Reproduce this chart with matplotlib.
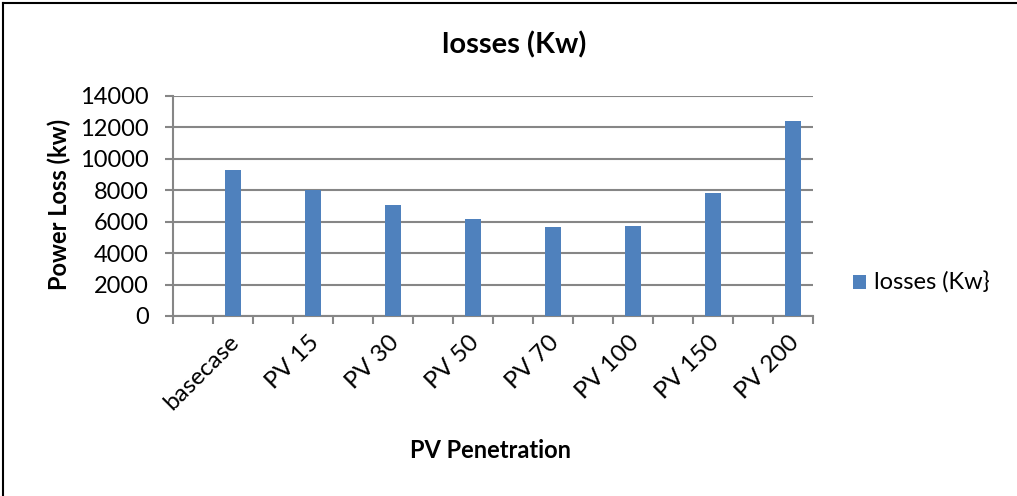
import matplotlib
matplotlib.use("Agg")
import matplotlib.pyplot as plt
from matplotlib.lines import Line2D
from matplotlib.ticker import FixedLocator
import matplotlib.transforms as mtransforms

# Data
scenarios = ["basecase", "PV 15", "PV 30", "PV 50", "PV 70", "PV 100", "PV 150", "PV 200"]
losses_kw = [9300, 8050, 7050, 6150, 5650, 5700, 7800, 12400]
y_ticks = [0, 2000, 4000, 6000, 8000, 10000, 12000, 14000]

plt.rcParams["font.family"] = ["Lato", "DejaVu Sans"]

BAR_COLOR = "#4F81BD"
GRID_COLOR = "#868686"
W, H = 1017, 496

fig = plt.figure(figsize=(W / 100, H / 100), dpi=100)
ax = fig.add_axes([173 / W, (H - 316) / H, 640 / W, 220 / H])

# Each scenario sits in every other category slot
n_slots = 2 * len(scenarios)
positions = [2 * i + 1 for i in range(len(scenarios))]

ax.bar(positions, losses_kw, width=0.4, color=BAR_COLOR, zorder=3,
       label="losses (Kw}")

ax.set_xlim(-0.5, n_slots - 0.5)
ax.set_ylim(0, 14000)
ax.set_yticks(y_ticks)
ax.set_yticklabels([str(v) for v in y_ticks], fontsize=17)
ax.yaxis.grid(True, color=GRID_COLOR, linewidth=1.5, zorder=0)

# Slot-boundary tick marks on the category axis
ax.xaxis.set_major_locator(FixedLocator([p - 0.5 for p in range(n_slots + 1)]))
ax.set_xticklabels([])
ax.tick_params(axis="x", which="major", direction="out", length=5.5,
               width=1.5, color=GRID_COLOR)
ax.tick_params(axis="y", which="major", direction="out", length=5.5,
               width=1.5, color=GRID_COLOR, pad=12)

# Rotated category labels
offset = mtransforms.ScaledTranslation(3 / 100, -23 / 100, fig.dpi_scale_trans)
for pos, name in zip(positions, scenarios):
    ax.text(pos, 0, name, rotation=45, ha="right", va="center",
            rotation_mode="anchor", fontsize=17.5,
            transform=ax.get_xaxis_transform() + offset)

for side in ("top", "right"):
    ax.spines[side].set_visible(False)
for side in ("left", "bottom"):
    ax.spines[side].set_color(GRID_COLOR)
    ax.spines[side].set_linewidth(1.5)

fig.text(59 / W, 1 - 204 / H, "Power Loss (kw)", fontsize=17, rotation=90,
         fontweight="bold", ha="center", va="center")
fig.text(491 / W, 1 - 450 / H, "PV Penetration", fontsize=17,
         fontweight="bold", ha="center", va="center")
fig.text(514 / W, 1 - 45 / H, "losses (Kw)", fontsize=21,
         fontweight="bold", ha="center", va="center")

ax.legend(loc="center left", bbox_to_anchor=(853 / W, 1 - 283 / H),
          bbox_transform=fig.transFigure, frameon=False, fontsize=17,
          handlelength=0.55, handleheight=0.55, handletextpad=0.35,
          borderaxespad=0, borderpad=0)

# Chart frame (left and top edges)
fig.add_artist(Line2D([3 / W, 3 / W], [0, 1 - 3 / H], color="black",
                      linewidth=1.5, transform=fig.transFigure))
fig.add_artist(Line2D([3 / W, 1], [1 - 3 / H, 1 - 3 / H], color="black",
                      linewidth=1.5, transform=fig.transFigure))

fig.savefig("out.png", dpi=100, facecolor="white")
